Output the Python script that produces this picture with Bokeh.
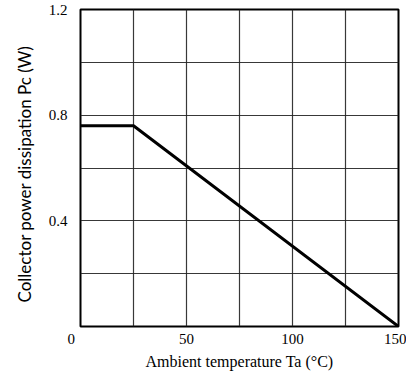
from bokeh.plotting import figure
from bokeh.models import Range1d, FixedTicker, Title
from bokeh.embed import file_html
from bokeh.resources import INLINE

# Data
temps = [0, 25, 150]
power = [0.76, 0.76, 0.0]
x_ticks = [0, 50, 100, 150]
x_tick_labels = ["0\u00a0\u00a0\u00a0\u00a0\u00a0", "50", "100", "150"]
y_ticks = [0.4, 0.8, 1.2]
y_tick_labels = ["0.4", "0.8", "1.2"]
x_grid = [0, 25, 50, 75, 100, 125, 150]
y_grid = [0, 0.2, 0.4, 0.6, 0.8, 1.0, 1.2]

p = figure(width=406, height=372, output_backend="svg", toolbar_location=None,
           x_range=Range1d(0, 150), y_range=Range1d(0, 1.2),
           min_border_left=80, min_border_top=9, min_border_right=8, min_border_bottom=46)
p.background_fill_color = "white"
p.border_fill_color = "white"
p.outline_line_color = "black"
p.outline_line_width = 2

for ax in (p.xaxis, p.yaxis):
    ax.axis_line_color = None
    ax.major_tick_line_color = None
    ax.minor_tick_line_color = None
    ax.major_label_text_font = "Liberation Serif"
    ax.major_label_text_font_size = "15px"
    ax.major_label_text_color = "black"
    ax.axis_label_text_font_style = "normal"
    ax.axis_label_text_color = "black"

p.xaxis.ticker = FixedTicker(ticks=x_ticks)
p.yaxis.ticker = FixedTicker(ticks=y_ticks)
p.xaxis.major_label_overrides = dict(zip(x_ticks, x_tick_labels))
p.yaxis.major_label_overrides = dict(zip(y_ticks, y_tick_labels))
p.xaxis.major_label_standoff = -2
p.yaxis.major_label_standoff = 7
p.xaxis.axis_label = "Ambient temperature Ta (°C)"
p.xaxis.axis_label_text_font = "Liberation Serif"
p.xaxis.axis_label_text_font_size = "16px"
p.xaxis.axis_label_standoff = 3

ytitle = Title(text="Collector power dissipation Pc (W)", align="left",
               text_font="Lato", text_font_size="17px", text_font_style="normal",
               text_color="black", offset=24, standoff=22)
p.add_layout(ytitle, "left")

p.xgrid.ticker = FixedTicker(ticks=x_grid)
p.ygrid.ticker = FixedTicker(ticks=y_grid)
for g in (p.xgrid, p.ygrid):
    g.grid_line_color = "#222222"
    g.grid_line_width = 1.2
    g.grid_line_alpha = 0.9

p.line(temps, power, line_color="black", line_width=3)

open("out.html", "w").write(file_html(p, INLINE))
